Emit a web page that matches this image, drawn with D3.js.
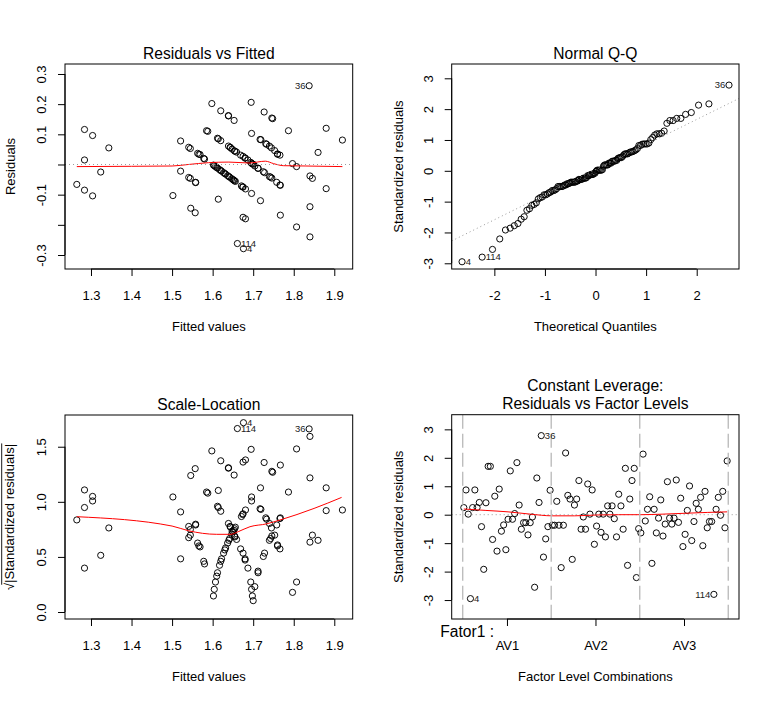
<!DOCTYPE html>
<html><head><meta charset="utf-8">
<script src="https://cdn.jsdelivr.net/npm/d3@7"></script>
<style>
body{margin:0;background:#fff}
svg{display:block}
</style>
</head><body>
<svg id="chart" width="773" height="701"></svg>
<script>
// ---------------- DATA ----------------
const fittedValues = [
1.265,1.284,1.284,1.284,1.304,1.304,1.324,1.344,1.502,1.521,1.521,1.541,1.545,1.541,1.545,1.546,1.557,1.558,1.558,1.563,
1.566,1.569,1.578,1.580,1.585,1.588,1.598,1.602,1.604,1.607,1.610,1.612,1.612,1.614,1.614,1.617,1.620,1.620,1.620,1.622,
1.627,1.630,1.632,1.637,1.639,1.639,1.639,1.640,1.642,1.643,1.644,1.647,1.648,1.650,1.652,1.653,1.654,1.654,1.655,1.656,
1.659,1.661,1.669,1.671,1.674,1.675,1.675,1.675,1.676,1.680,1.680,1.681,1.681,1.687,1.694,1.695,1.696,1.696,1.696,1.698,
1.700,1.704,1.712,1.712,1.717,1.718,1.719,1.725,1.727,1.728,1.731,1.733,1.740,1.740,1.743,1.745,1.746,1.746,1.748,1.753,
1.758,1.760,1.760,1.766,1.766,1.767,1.767,1.787,1.797,1.807,1.807,1.838,1.840,1.840,1.840,1.846,1.860,1.880,1.880,1.920];
const residualValues = [
-0.066,0.015,0.116,-0.085,0.096,-0.104,-0.025,0.055,-0.103,0.078,-0.022,0.057,0.053,-0.043,-0.046,-0.145,-0.160,-0.059,-0.060,0.037,
0.034,0.033,0.020,0.018,0.112,0.110,0.202,-0.002,-0.004,-0.007,-0.010,-0.012,0.087,0.085,-0.115,-0.017,0.079,0.178,-0.020,-0.022,
-0.027,-0.030,-0.032,-0.037,0.161,0.162,0.061,-0.040,-0.042,0.057,0.056,-0.047,0.051,-0.050,-0.052,0.146,0.045,-0.054,0.044,-0.056,
0.041,-0.262,0.031,-0.071,-0.074,0.027,-0.075,-0.175,-0.279,0.022,0.021,-0.081,-0.180,0.015,0.007,0.206,0.103,-0.096,0.004,0.002,
0.001,-0.005,-0.013,-0.012,0.083,-0.120,0.082,-0.024,0.174,-0.027,0.069,0.067,0.061,-0.040,-0.042,0.055,0.154,-0.045,0.152,0.046,
-0.059,0.035,0.034,0.031,-0.068,-0.069,-0.168,0.112,0.003,-0.007,-0.207,0.261,-0.038,-0.140,-0.240,-0.046,0.040,0.120,-0.080,0.081];
// standardized residuals in observation / factor-level order (obs number = position + 1)
const stdResidualsByLevel = [
0.25,0.87,0.02,-2.95,0.25,0.87,0.25,0.43,-0.42,-1.92,0.42,1.70,1.70,-0.87,0.65,-1.28,0.90,-0.58,-0.36,-1.23,
-0.16,1.54,-0.16,0.04,1.83,0.34,-0.51,-0.28,-0.28,-0.71,-0.28,-0.08,-2.55,1.29,0.43,2.78,-1.49,-0.85,-0.42,0.86,
-0.37,-0.37,0.47,-0.37,-1.86,-0.37,2.17,0.68,0.55,-1.57,0.34,0.55,1.20,-0.51,-0.08,-0.51,1.08,0.02,0.87,-1.04,
-0.40,0.02,-0.62,0.02,-0.78,0.31,0.02,0.31,-0.14,-0.78,0.72,0.31,-0.51,1.63,-1.78,0.55,1.20,1.63,-2.21,-0.49,
-0.64,2.13,-0.22,0.19,0.63,-1.71,0.19,-0.64,-0.12,0.52,-0.75,-0.33,1.16,-0.12,-0.33,-0.12,1.22,-0.27,0.58,-1.12,
-0.69,0.15,1.01,-0.91,-0.24,0.40,0.19,0.61,-1.09,0.82,-0.46,-0.24,-0.24,-2.80,0.19,0.61,-0.02,0.82,-0.46,1.89];
const residualScale = 0.0945;          // residual / standardized residual
const factorLevels = ["AV1","AV2","AV3"];
const combosPerLevel = 40;
const factorName = "Fator1";

// red smoother lines
const smoothResidX = [1.265,1.40,1.50,1.54,1.59,1.64,1.69,1.73,1.75,1.775,1.83,1.92];
const smoothResidY = [-0.007,-0.006,-0.005,0.000,0.006,0.008,0.005,0.011,0.003,-0.004,-0.005,-0.007];
const smoothScaleX = [1.265,1.50,1.54,1.61,1.645,1.663,1.692,1.733,1.766,1.85,1.918];
const smoothScaleY = [0.865,0.78,0.738,0.705,0.705,0.729,0.774,0.80,0.835,0.94,1.04];
const smoothLevelX = [0,10,20,30,40,50,60,70,80,90,100,110,119];
const smoothLevelY = [0.20,0.15,0.10,0.02,-0.04,-0.04,-0.01,0.0,0.0,0.02,0.05,0.08,0.10];

// tick values / labels
const fitTicks = [1.3,1.4,1.5,1.6,1.7,1.8,1.9];
const fitTickLabels = ["1.3","1.4","1.5","1.6","1.7","1.8","1.9"];
const residTicks = [-0.3,-0.2,-0.1,0,0.1,0.2,0.3];
const residTickLabels = ["-0.3","","-0.1","","0.1","0.2","0.3"];
const qqXTicks = [-2,-1,0,1,2];
const qqXTickLabels = ["-2","-1","0","1","2"];
const stdTicks = [-3,-2,-1,0,1,2,3];
const stdTickLabels = ["-3","-2","-1","0","1","2","3"];
const slTicks = [0,0.5,1.0,1.5];
const slTickLabels = ["0.0","0.5","1.0","1.5"];

// ---------------- DRAWING ----------------
const FONT = '"Liberation Sans", Arial, Helvetica, sans-serif';
const svg = d3.select("#chart");
svg.append("rect").attr("width",773).attr("height",701).attr("fill","#fff");
let clipCount = 0;

function qnorm(p){
  const a=[-3.969683028665376e+01,2.209460984245205e+02,-2.759285104469687e+02,1.383577518672690e+02,-3.066479806614716e+01,2.506628277459239e+00];
  const b=[-5.447609879822406e+01,1.615858368580409e+02,-1.556989798598866e+02,6.680131188771972e+01,-1.328068155288572e+01];
  const c=[-7.784894002430293e-03,-3.223964580411365e-01,-2.400758277161838e+00,-2.549732539343734e+00,4.374664141464968e+00,2.938163982698783e+00];
  const d=[7.784695709041462e-03,3.224671290700398e-01,2.445134137142996e+00,3.754408661907416e+00];
  const pl=0.02425, ph=1-pl; let q,r;
  if(p<pl){q=Math.sqrt(-2*Math.log(p));return (((((c[0]*q+c[1])*q+c[2])*q+c[3])*q+c[4])*q+c[5])/((((d[0]*q+d[1])*q+d[2])*q+d[3])*q+1);}
  if(p<=ph){q=p-0.5;r=q*q;return (((((a[0]*r+a[1])*r+a[2])*r+a[3])*r+a[4])*r+a[5])*q/(((((b[0]*r+b[1])*r+b[2])*r+b[3])*r+b[4])*r+1);}
  q=Math.sqrt(-2*Math.log(1-p));return -(((((c[0]*q+c[1])*q+c[2])*q+c[3])*q+c[4])*q+c[5])/((((d[0]*q+d[1])*q+d[2])*q+d[3])*q+1);
}

function makePanel(box, xDom, yDom){
  const x = d3.scaleLinear().domain(xDom).range([box.l, box.r]);
  const y = d3.scaleLinear().domain(yDom).range([box.b, box.t]);
  const id = "clip" + (clipCount++);
  svg.append("clipPath").attr("id", id).append("rect")
    .attr("x", box.l).attr("y", box.t).attr("width", box.r-box.l).attr("height", box.b-box.t);
  const g = svg.append("g");
  const plot = g.append("g").attr("clip-path", `url(#${id})`);
  return {box, x, y, g, plot};
}

function drawBox(p){
  p.g.append("rect").attr("x",p.box.l).attr("y",p.box.t)
    .attr("width",p.box.r-p.box.l).attr("height",p.box.b-p.box.t)
    .attr("fill","none").attr("stroke","#000").attr("stroke-width",1);
}

function xAxis(p, ticks, labels){
  const ax = d3.axisBottom(p.x).tickValues(ticks).tickSize(7).tickFormat((d,i)=>labels[i]);
  const g = p.g.append("g").attr("transform",`translate(0,${p.box.b})`).call(ax)
    .attr("font-family",FONT).attr("font-size",13);
  g.select(".domain").attr("d",`M${p.x(ticks[0])},0H${p.x(ticks[ticks.length-1])}`).attr("stroke","#000");
  g.selectAll(".tick line").attr("stroke","#000");
  g.selectAll(".tick text").attr("y",31).attr("dy",0).attr("fill","#000");
}

function yAxis(p, ticks, labels){
  const ax = d3.axisLeft(p.y).tickValues(ticks).tickSize(7).tickFormat((d,i)=>labels[i]);
  const g = p.g.append("g").attr("transform",`translate(${p.box.l},0)`).call(ax)
    .attr("font-family",FONT).attr("font-size",13);
  g.select(".domain").attr("d",`M0,${p.y(ticks[0])}V${p.y(ticks[ticks.length-1])}`).attr("stroke","#000");
  g.selectAll(".tick line").attr("stroke","#000");
  g.selectAll(".tick text").attr("x",0).attr("y",-19).attr("dy",0)
    .attr("transform","rotate(-90)").attr("text-anchor","middle").attr("fill","#000");
}

function title(p, lines){
  const cx = (p.box.l + p.box.r)/2;
  lines.forEach((t,i)=>{
    svg.append("text").attr("x",cx).attr("y",p.box.t - 5.5 - (lines.length-1-i)*18.5)
      .attr("text-anchor","middle").attr("font-family",FONT).attr("font-size",15.6).attr("fill","#000").text(t);
  });
}
function xLabel(p, t){
  svg.append("text").attr("x",(p.box.l+p.box.r)/2).attr("y",p.box.b+62)
    .attr("text-anchor","middle").attr("font-family",FONT).attr("font-size",13).attr("fill","#000").text(t);
}
function yLabel(p, t, xPos){
  svg.append("text").attr("transform",`translate(${xPos},${(p.box.t+p.box.b)/2}) rotate(-90)`)
    .attr("text-anchor","middle").attr("font-family",FONT).attr("font-size",13).attr("fill","#000").text(t);
}
function points(p, data){
  p.plot.selectAll(null).data(data).join("circle")
    .attr("cx",d=>p.x(d[0])).attr("cy",d=>p.y(d[1])).attr("r",3.1)
    .attr("fill","none").attr("stroke","#000").attr("stroke-width",0.95);
}
function redLine(p, xs, ys){
  const line = d3.line().x(d=>p.x(d[0])).y(d=>p.y(d[1])).curve(d3.curveMonotoneX);
  p.plot.append("path").attr("d", line(d3.zip(xs,ys)))
    .attr("fill","none").attr("stroke","#ff0000").attr("stroke-width",1);
}
function dottedH(p, v){
  p.plot.append("line").attr("x1",p.box.l).attr("x2",p.box.r).attr("y1",p.y(v)).attr("y2",p.y(v))
    .attr("stroke","#999").attr("stroke-width",1).attr("stroke-dasharray","1,3");
}
function idLabel(p, xv, yv, text, right){
  p.g.append("text").attr("x",p.x(xv) + (right?3.6:-3.6)).attr("y",p.y(yv)).attr("dy","0.35em")
    .attr("text-anchor", right?"start":"end").attr("font-family",FONT).attr("font-size",9.5)
    .attr("fill","#222").text(text);
}

// observations to label: three largest |standardized residual|
const levelOrder = d3.range(stdResidualsByLevel.length)
  .sort((a,b)=>Math.abs(stdResidualsByLevel[b])-Math.abs(stdResidualsByLevel[a])).slice(0,3);
const labelIds = levelOrder.map(i=>String(i+1));
const fitOrder = d3.range(residualValues.length)
  .sort((a,b)=>Math.abs(residualValues[b])-Math.abs(residualValues[a])).slice(0,3);

// ---------- Panel 1: Residuals vs Fitted ----------
const p1 = makePanel({l:65,r:352.7,t:64,b:269},[1.2359,1.9454],[-0.3464,0.3331]);
points(p1, d3.zip(fittedValues, residualValues));
redLine(p1, smoothResidX, smoothResidY);
dottedH(p1, 0);
drawBox(p1);
xAxis(p1, fitTicks, fitTickLabels);
yAxis(p1, residTicks, residTickLabels);
title(p1, ["Residuals vs Fitted"]);
xLabel(p1, "Fitted values");
yLabel(p1, "Residuals", 15);
{
  const xs = fitOrder.map(i=>fittedValues[i]);
  const mid = (d3.min(xs)+d3.max(xs))/2;
  fitOrder.forEach((i,k)=>idLabel(p1, fittedValues[i], residualValues[i], labelIds[k], fittedValues[i] < mid));
}

// ---------- Panel 2: Normal Q-Q ----------
const p2 = makePanel({l:451.7,r:739,t:64,b:269},[-2.843,2.836],[-3.185,3.464]);
const n = stdResidualsByLevel.length;
const qqOrder = d3.range(n).sort((a,b)=>stdResidualsByLevel[a]-stdResidualsByLevel[b]);
const qqData = qqOrder.map((idx,i)=>[qnorm((i+0.5)/n), stdResidualsByLevel[idx], idx]);
points(p2, qqData);
{
  const sortedVals = qqData.map(d=>d[1]);
  const q1 = d3.quantile(sortedVals,0.25), q3 = d3.quantile(sortedVals,0.75);
  const slope = (q3-q1)/(qnorm(0.75)-qnorm(0.25));
  const icpt = q1 - slope*qnorm(0.25);
  const [x0,x1] = p2.x.domain();
  p2.plot.append("line").attr("x1",p2.x(x0)).attr("y1",p2.y(icpt+slope*x0))
    .attr("x2",p2.x(x1)).attr("y2",p2.y(icpt+slope*x1))
    .attr("stroke","#999").attr("stroke-width",1).attr("stroke-dasharray","1,3");
}
drawBox(p2);
xAxis(p2, qqXTicks, qqXTickLabels);
yAxis(p2, stdTicks, stdTickLabels);
title(p2, ["Normal Q-Q"]);
xLabel(p2, "Theoretical Quantiles");
yLabel(p2, "Standardized residuals", 403);
{
  const lab = qqData.filter(d=>levelOrder.includes(d[2]));
  const mid = (d3.min(lab,d=>d[0])+d3.max(lab,d=>d[0]))/2;
  lab.forEach(d=>idLabel(p2, d[0], d[1], String(d[2]+1), d[0] < mid));
}

// ---------- Panel 3: Scale-Location ----------
const p3 = makePanel({l:65,r:352.7,t:415,b:619},[1.2359,1.9454],[-0.0635,1.788]);
const slData = fittedValues.map((f,i)=>[f, Math.sqrt(Math.abs(residualValues[i]/residualScale))]);
points(p3, slData);
redLine(p3, smoothScaleX, smoothScaleY);
drawBox(p3);
xAxis(p3, fitTicks, fitTickLabels);
yAxis(p3, slTicks, slTickLabels);
title(p3, ["Scale-Location"]);
xLabel(p3, "Fitted values");
{
  const g = svg.append("g").attr("transform",`translate(14,${(415+619)/2}) rotate(-90)`);
  const t = g.append("text").attr("text-anchor","middle").attr("font-family",FONT).attr("font-size",13).attr("fill","#000");
  t.append("tspan").text("\u221A");
  t.append("tspan").text("|Standardized residuals|");
  const node = t.node();
  const L = node.getComputedTextLength();
  const rootW = node.getSubStringLength(0,1);
  g.append("line").attr("x1",-L/2 + rootW*0.75).attr("x2",L/2 + 0.5).attr("y1",-12.3).attr("y2",-12.3)
    .attr("stroke","#000").attr("stroke-width",0.9);
}
{
  const xs = fitOrder.map(i=>slData[i][0]);
  const mid = (d3.min(xs)+d3.max(xs))/2;
  fitOrder.forEach((i,k)=>idLabel(p3, slData[i][0], slData[i][1], labelIds[k], slData[i][0] < mid));
}

// ---------- Panel 4: Constant Leverage ----------
const nCombos = factorLevels.length*combosPerLevel;
const p4 = makePanel({l:451.7,r:739,t:414.7,b:619},[-5.47,124.35],[-3.666,3.515]);
const lvData = stdResidualsByLevel.map((v,i)=>[i, v]);
points(p4, lvData);
dottedH(p4, 0);
redLine(p4, smoothLevelX, smoothLevelY);
d3.range(factorLevels.length+1).forEach(k=>{
  const xv = combosPerLevel*k - 0.5;
  p4.plot.append("line").attr("x1",p4.x(xv)).attr("x2",p4.x(xv)).attr("y1",p4.box.t).attr("y2",p4.box.b)
    .attr("stroke","#bdbdbd").attr("stroke-width",1.4).attr("stroke-dasharray","14,5");
});
drawBox(p4);
xAxis(p4, factorLevels.map((d,k)=>combosPerLevel*(k+0.5)-0.5), factorLevels);
yAxis(p4, stdTicks, stdTickLabels);
title(p4, ["Constant Leverage:", "Residuals vs Factor Levels"]);
xLabel(p4, "Factor Level Combinations");
yLabel(p4, "Standardized residuals", 403);
svg.append("text").attr("x",p4.box.l - 0.05*(p4.box.r-p4.box.l) + 3).attr("y",637)
  .attr("font-family",FONT).attr("font-size",15.6).attr("fill","#000").text(factorName + " :");
{
  const lab = levelOrder.map(i=>lvData[i]);
  const [a,b] = p4.x.domain(); const mid = (a+b)/2;
  lab.forEach(d=>idLabel(p4, d[0], d[1], String(d[0]+1), d[0] < mid));
}
</script>
</body></html>
